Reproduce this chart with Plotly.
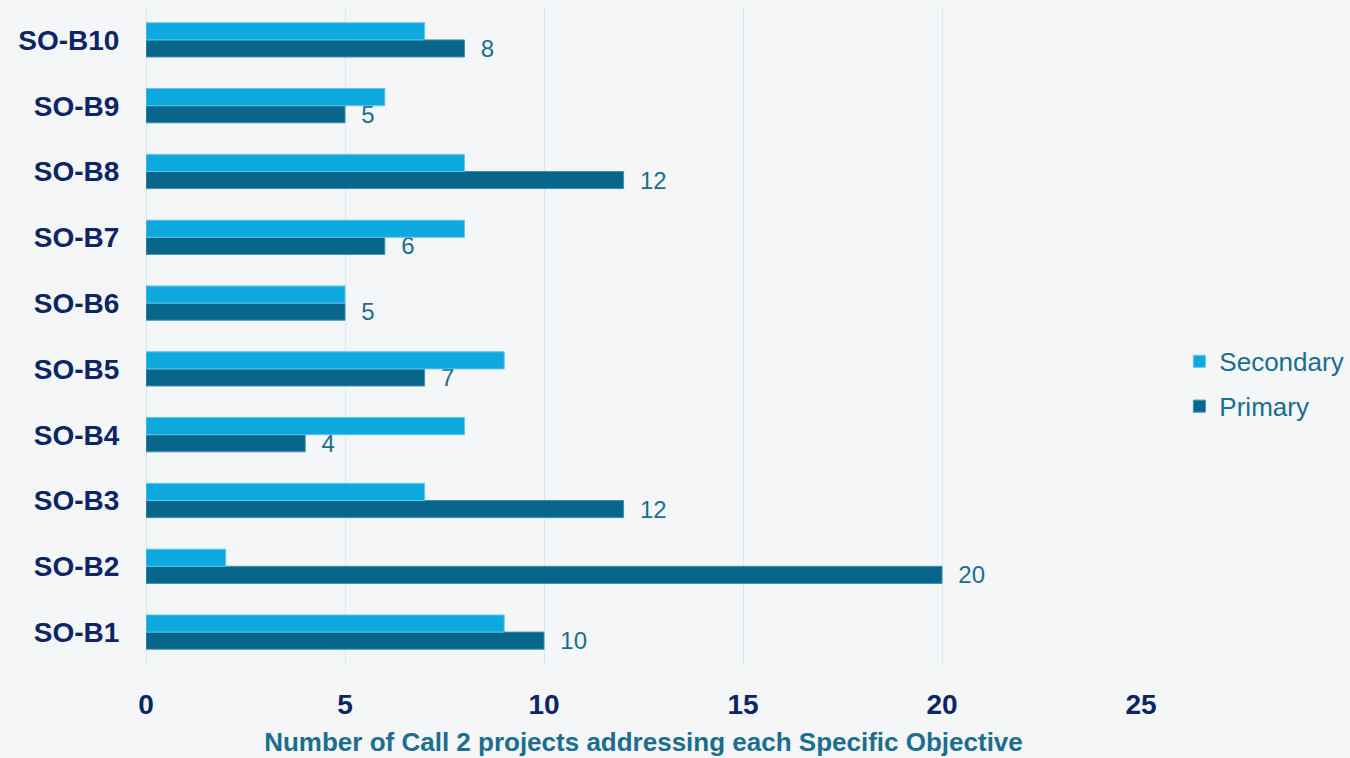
import plotly.graph_objects as go

# Specific Objectives, listed bottom to top
objectives = ["SO-B1", "SO-B2", "SO-B3", "SO-B4", "SO-B5",
              "SO-B6", "SO-B7", "SO-B8", "SO-B9", "SO-B10"]
primary = [10, 20, 12, 4, 7, 5, 6, 12, 5, 8]
secondary = [9, 2, 7, 8, 9, 5, 8, 8, 6, 7]
x_ticks = [0, 5, 10, 15, 20, 25]

PRIMARY_COLOR = "#07668A"
SECONDARY_COLOR = "#0DA9DE"
NAVY = "#0B2566"
TEAL_TEXT = "#1A6E8E"
FONT = "Liberation Sans, Arial, sans-serif"

fig = go.Figure()
fig.add_trace(go.Bar(
    name="Primary", y=objectives, x=primary, orientation="h",
    legendgroup="p", legendrank=2,
    marker=dict(color=PRIMARY_COLOR, line=dict(color="#3F8FB0", width=1)),
    text=primary, texttemplate="  %{x}", textposition="outside",
    constraintext="none",
    textfont=dict(family=FONT, size=24, color=TEAL_TEXT),
    cliponaxis=False,
))
fig.add_trace(go.Bar(
    name="Secondary", y=objectives, x=secondary, orientation="h",
    legendgroup="s", legendrank=1,
    marker=dict(color=SECONDARY_COLOR, line=dict(color="#5CC6EC", width=1)),
))

fig.update_layout(
    width=1350, height=758,
    barmode="group", bargap=0.48, bargroupgap=0,
    paper_bgcolor="#F5F6F8", plot_bgcolor="rgba(0,0,0,0)",
    margin=dict(l=146, r=209, t=7, b=93, autoexpand=False),
    font=dict(family=FONT),
    legend=dict(
        traceorder="grouped", xref="container", yref="container",
        x=0.8736, xanchor="left", y=0.4935, yanchor="middle",
        font=dict(family=FONT, size=26, color=TEAL_TEXT),
        bgcolor="rgba(0,0,0,0)", itemwidth=30, tracegroupgap=8,
    ),
    xaxis=dict(
        range=[0, 25], tickvals=x_ticks, showgrid=True, gridcolor="#CFEBF8",
        gridwidth=1, zeroline=True, zerolinecolor="#CFEBF8", zerolinewidth=1,
        ticks="outside", ticklen=14, tickcolor="rgba(0,0,0,0)",
        tickfont=dict(family=FONT, size=28, color=NAVY, weight="bold"),
        title=dict(text="<b>Number of Call 2 projects addressing each Specific Objective</b>",
                   font=dict(family=FONT, size=26, color=TEAL_TEXT), standoff=14),
    ),
    yaxis=dict(
        type="category", categoryorder="array", categoryarray=objectives,
        showgrid=False, zeroline=False,
        ticks="outside", ticklen=20, tickcolor="rgba(0,0,0,0)",
        tickfont=dict(family=FONT, size=28, color=NAVY, weight="bold"),
    ),
)

fig.write_html("out.html")
